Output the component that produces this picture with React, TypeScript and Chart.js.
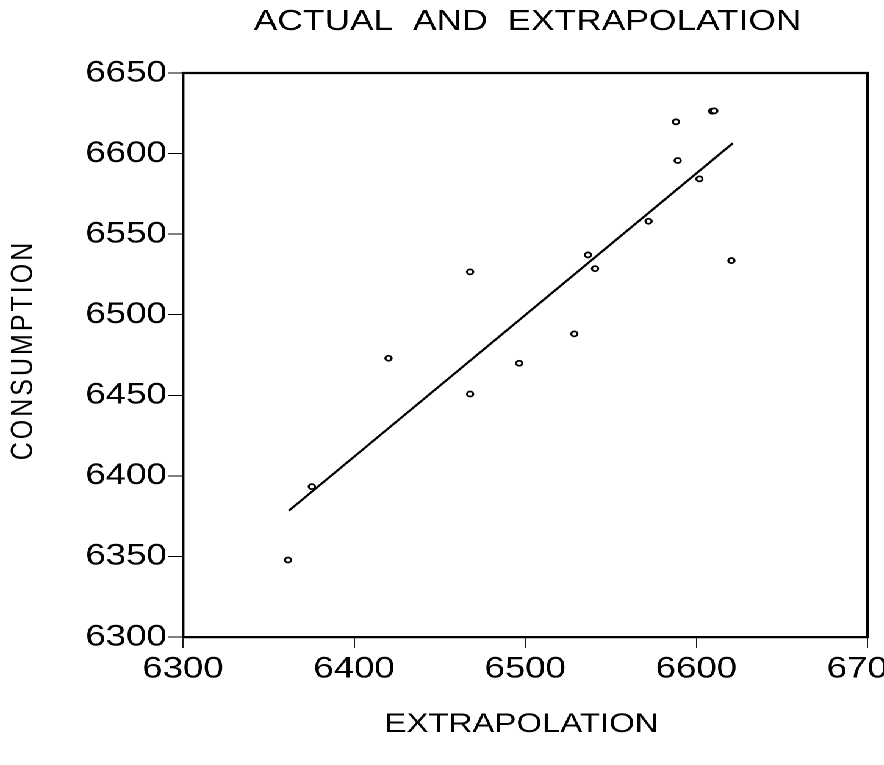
import React, { useEffect, useRef } from "react";
import { Chart, registerables } from "chart.js";

Chart.register(...registerables);

// ---- Data ----
const TITLE = "ACTUAL  AND  EXTRAPOLATION";
const X_TITLE = "EXTRAPOLATION";
const Y_TITLE = "CONSUMPTION";

const extrapolation = [
  6361.4, 6375.3, 6420.1, 6467.8, 6467.8, 6496.5, 6528.7, 6536.7,
  6540.8, 6572.1, 6588.1, 6589.1, 6601.8, 6609.3, 6610.5, 6620.5,
];
const consumption = [
  6347.8, 6393.3, 6473.0, 6526.6, 6450.8, 6469.9, 6488.1, 6537.1,
  6528.6, 6558.0, 6619.7, 6595.7, 6584.3, 6626.3, 6626.5, 6533.6,
];

const fitX = [6361.9, 6621.3];
const fitY = [6378.4, 6606.4];

const xTicks = [6300, 6400, 6500, 6600, 6700];
const yTicks = [6300, 6350, 6400, 6450, 6500, 6550, 6600, 6650];

// ---- Layout ----
const STRETCH = 1.22;
const W = 725;
const H = 765;
const FONT = '"Liberation Sans", Arial, Helvetica, sans-serif';

const framePlugin = {
  id: "frameAndTitles",
  afterDraw(chart: any) {
    const { ctx, chartArea } = chart;
    const { left, right, top, bottom } = chartArea;
    ctx.save();
    ctx.strokeStyle = "#000";
    ctx.lineWidth = 2.2;
    ctx.beginPath();
    ctx.moveTo(left - 1.1, top);
    ctx.lineTo(right, top);
    ctx.lineTo(right, bottom + 1.1);
    ctx.stroke();

    ctx.fillStyle = "#000";
    ctx.textAlign = "center";
    ctx.textBaseline = "alphabetic";
    ctx.font = `29px ${FONT}`;
    ctx.fillText(TITLE, (left + right) / 2 + 2, 30);

    ctx.font = `27px ${FONT}`;
    ctx.fillText(X_TITLE, (left + right) / 2 - 3, 732);

    ctx.translate(19.7, (top + bottom) / 2 - 5);
    ctx.rotate(-Math.PI / 2);
    ctx.font = `25px ${FONT}`;
    (ctx as any).letterSpacing = "3px";
    ctx.textBaseline = "middle";
    ctx.fillText(Y_TITLE, 0, 0);
    ctx.restore();
  },
};

export default function App() {
  const ref = useRef<HTMLCanvasElement>(null);

  useEffect(() => {
    if (!ref.current) return;
    const chart = new Chart(ref.current, {
      type: "scatter",
      data: {
        datasets: [
          {
            label: "actual",
            data: extrapolation.map((x, i) => ({ x, y: consumption[i] })),
            pointRadius: 2.5,
            pointBorderWidth: 1.8,
            pointBorderColor: "#000",
            pointBackgroundColor: "#fff",
            showLine: false,
          },
          {
            label: "fit",
            data: fitX.map((x, i) => ({ x, y: fitY[i] })),
            showLine: true,
            borderColor: "#000",
            borderWidth: 2,
            pointRadius: 0,
            fill: false,
            tension: 0,
          },
        ],
      },
      options: {
        animation: false,
        responsive: false,
        devicePixelRatio: 2,
        layout: { padding: { left: 0, right: 14, top: 73, bottom: 0 } },
        plugins: {
          legend: { display: false },
          tooltip: { enabled: false },
          title: { display: false },
        },
        scales: {
          x: {
            type: "linear",
            min: 6300,
            max: 6700,
            afterBuildTicks: (s: any) => {
              s.ticks = xTicks.map((v) => ({ value: v }));
            },
            afterFit: (s: any) => {
              s.height = H - 637;
              s.paddingLeft = 0;
              s.paddingRight = 0;
            },
            grid: {
              display: true,
              drawOnChartArea: false,
              drawTicks: true,
              tickLength: 11,
              tickColor: "#000",
              tickWidth: 0.9,
              color: "#000",
            },
            border: { display: true, color: "#000", width: 2.3 },
            ticks: {
              color: "#000",
              font: { family: FONT, size: 30 },
              padding: 3,
              maxRotation: 0,
              autoSkip: false,
              callback: (v: any) => String(v),
            },
          },
          y: {
            type: "linear",
            min: 6300,
            max: 6650,
            afterBuildTicks: (s: any) => {
              s.ticks = yTicks.map((v) => ({ value: v }));
            },
            afterFit: (s: any) => {
              s.width = 150;
              s.paddingTop = 0;
              s.paddingBottom = 0;
            },
            grid: {
              display: true,
              drawOnChartArea: false,
              drawTicks: true,
              tickLength: 12.3,
              tickColor: "#000",
              tickWidth: 1,
              color: "#000",
            },
            border: { display: true, color: "#000", width: 2.2 },
            ticks: {
              color: "#000",
              font: { family: FONT, size: 30 },
              padding: 1,
              autoSkip: false,
              callback: (v: any) => String(v),
            },
          },
        },
      },
      plugins: [framePlugin],
    });
    return () => chart.destroy();
  }, []);

  return (
    <div
      style={{
        position: "fixed",
        left: 0,
        top: 0,
        width: W,
        height: H,
        background: "#fff",
        transform: `scaleX(${STRETCH})`,
        transformOrigin: "0 0",
      }}
    >
      <canvas ref={ref} width={W} height={H} />
    </div>
  );
}
